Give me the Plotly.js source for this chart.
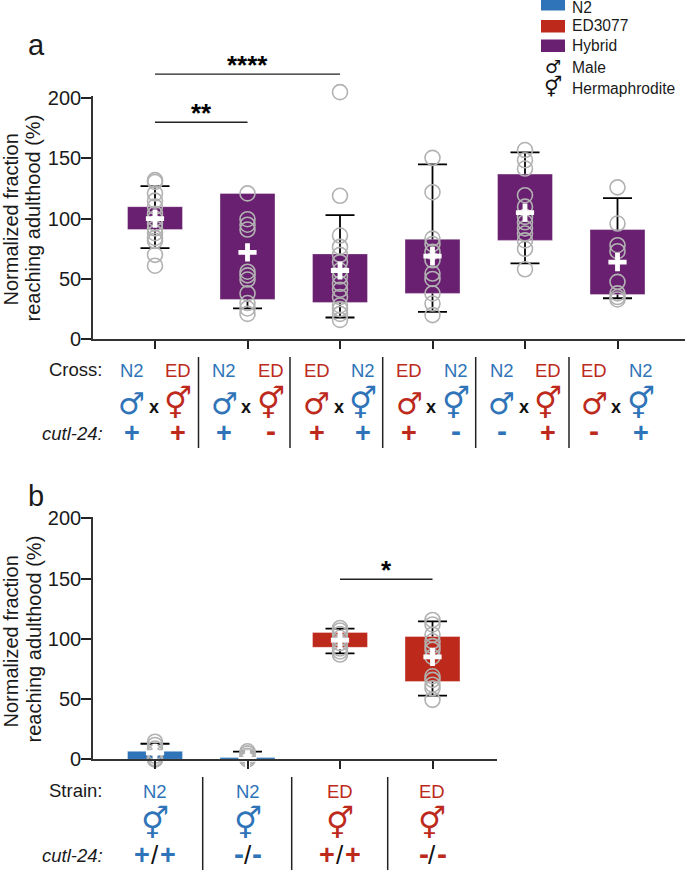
<!DOCTYPE html>
<html><head><meta charset="utf-8">
<script src="https://cdn.plot.ly/plotly-3.0.1.min.js"></script>
<style>html,body{margin:0;padding:0;background:#fff}</style></head>
<body><div id="chart" style="width:685px;height:870px"></div>
<script>
// ---------- data ----------
const aPos = [0,1,2,3,4,5];
const aBase = [91,33,30.5,38,82,37];
const aTop = [110,121,70.8,83,137,91];
const aMean = [100,72,57,69,105,64];
const aUpper = [127,118,103,145,155,117];
const aLower = [75.5,25.5,18,22.6,63,34];
const aPoints = [
 [132,130.5,121,115,110,104,100,96,92,88,84,81.6,70,61],
 [121,99.6,95,91,56,53,49.5,38,30,25.5,21],
 [205,119,86,76.6,70,64,57,52,46,41,35,28,25,21,16],
 [150.5,122,83.5,79,72.5,65.5,54.5,50,38,29.6,20],
 [157,148.5,141.6,119.5,110,101.5,97,92,87.7,82,75,58],
 [126,96,78,73,47.6,38,35,33]
];
const bPos = [0,1,2,3];
const bBase = [0,0,93,64.6];
const bTop = [6.7,1.5,105.4,102];
const bMean = [5.5,0,99,85];
const bUpper = [13,6.4,108.5,114.5];
const bLower = [0,0,88,53];
const bPoints = [
 [14.7,12,9,6,3,1,0,0],
 [6.7,5,3,1.5,0,0],
 [109,107,104,100.7,96.5,92,89.6,87],
 [115.7,112,103.5,98,94,91,85,69,66,62,59,49.4]
];
const crossLeft = ['N2','N2','ED','ED','N2','ED'];
const crossRight = ['ED','ED','N2','N2','ED','N2'];
const alleleLeft = ['+','+','+','+','-','-'];
const alleleRight = ['+','-','+','-','+','+'];
const strains = ['N2','N2','ED','ED'];
const strainAlleles = ['+','-','+','-'];
const yTicks = [0,50,100,150,200];
const legendBars = ['N2','ED3077','Hybrid'];
const sigA = [{from:0,to:1,y:180,stars:'**'},{from:0,to:2,y:220,stars:'****'}];
const sigB = [{from:2,to:3,y:149.5,stars:'*'}];
const yTitleLines = ['Normalized fraction','reaching adulthood (%)'];

// ---------- styles ----------
const W=685,H=870, FONT='"Liberation Sans", Arial, sans-serif', SYM='"DejaVu Sans", sans-serif';
const BLUE='#2f74b8', RED='#bd2a1c', PURPLE='#6a2070', INK='#1a1a1a';
const colorOf = s => s==='N2'?BLUE:RED;
const UNIT=92.5, X0=155;
const px = v => v/W, py = v => 1-v/H;
const annotations=[], shapes=[], traces=[];
function label(x,y,text,o={}){
  annotations.push(Object.assign({xref:'paper',yref:'paper',x:px(x),y:py(y),text,showarrow:false,
    xanchor:o.anchor||'center',yanchor:'middle',align:'center',borderpad:0,
    font:{family:o.family||FONT,size:o.size||18.5,color:o.color||INK,weight:o.weight||400,style:o.style||'normal'}},o.extra||{}));
}
function vline(x,y0,y1){shapes.push({type:'line',xref:'paper',yref:'paper',x0:px(x),x1:px(x),y0:py(y0),y1:py(y1),line:{color:'#222',width:1.5}});}
function sign(x,y,s,c){ if(s==='+') label(x,y,'+',{size:27,weight:700,color:c}); else label(x,y-2,'-',{size:30,weight:700,color:c}); }

function panel(ids,pos,base,top,mean,up,lo,points,color,sig){
  const [xa,ya,xo,yo]=ids;
  traces.push({type:'scatter',mode:'markers',x:pos,y:mean,xaxis:xa,yaxis:ya,cliponaxis:false,showlegend:false,hoverinfo:'skip',
    marker:{size:2,opacity:0},
    error_y:{type:'data',symmetric:false,array:up.map((u,i)=>u-mean[i]),arrayminus:lo.map((l,i)=>mean[i]-l),color:'#000',thickness:1.8,width:14.5}});
  traces.push({type:'bar',x:pos,y:top.map((t,i)=>t-base[i]),base:base,width:55/UNIT,xaxis:xo,yaxis:yo,showlegend:false,
    marker:{color:color,line:{color:'rgba(255,255,255,0.35)',width:1}}});
  points.forEach((vals,i)=>traces.push({type:'scatter',mode:'markers',x:vals.map(()=>pos[i]),y:vals,xaxis:xo,yaxis:yo,cliponaxis:false,showlegend:false,
    marker:{symbol:'circle-open',size:15,color:'#b2b2b2',line:{width:1.6,color:'#b2b2b2'}}}));
  traces.push({type:'scatter',mode:'markers',x:pos,y:mean,xaxis:xo,yaxis:yo,cliponaxis:false,showlegend:false,
    marker:{symbol:'cross-thin-open',size:13,color:'#fff',line:{width:4.8,color:'#fff'}}});
  sig.forEach(s=>{
    traces.push({type:'scatter',mode:'lines',x:[s.from,s.to],y:[s.y,s.y],xaxis:xo,yaxis:yo,cliponaxis:false,showlegend:false,line:{color:'#222',width:1.4}});
    annotations.push({xref:xo,yref:yo,x:(s.from+s.to)/2,y:s.y,yshift:-7,text:s.stars,showarrow:false,yanchor:'bottom',borderpad:0,
      font:{family:FONT,size:26,color:'#000',weight:700}});
  });
}
panel(['x','y','x3','y3'],aPos,aBase,aTop,aMean,aUpper,aLower,aPoints,PURPLE,sigA);
panel(['x2','y2','x4','y4'],bPos,bBase,bTop,bMean,bUpper,bLower,bPoints,[BLUE,BLUE,RED,RED],sigB);

// axes
const aRangeX=[(93-X0)/UNIT,(685-X0)/UNIT], bRangeX=[(93-X0)/UNIT,(497-X0)/UNIT];
const ay0=339.2, by0=759.4, k=1.205, yMax=201.5;
const aDomY=[1-ay0/H,1-(ay0-yMax*k)/H], bDomY=[1-by0/H,1-(by0-yMax*k)/H];
const xAxis=(range,dom,vals)=>({range,domain:dom,tickvals:vals,showticklabels:false,ticks:'outside',ticklen:7.5,tickwidth:1.5,tickcolor:'#222',
  showline:true,linecolor:'#333',linewidth:1.6,showgrid:false,zeroline:false,fixedrange:true});
const yAxis=(anchor,dom)=>({range:[0,yMax],domain:dom,anchor,tickvals:yTicks,ticks:'outside',ticklen:10,tickwidth:1.5,tickcolor:'#222',
  tickfont:{family:FONT,size:20,color:INK},ticklabelstandoff:-4,showline:true,linecolor:'#333',linewidth:1.6,showgrid:false,zeroline:false,fixedrange:true});
const hidden=(range,dom,anchor,over)=>Object.assign({range,domain:dom,anchor,visible:false,fixedrange:true},over?{overlaying:over}:{});
const layout={width:W,height:H,margin:{l:0,r:0,t:0,b:0},paper_bgcolor:'#fff',plot_bgcolor:'rgba(0,0,0,0)',showlegend:false,barmode:'overlay',font:{family:FONT},
  xaxis:xAxis(aRangeX,[93/W,1],aPos),yaxis:yAxis('x',aDomY),
  xaxis2:Object.assign(xAxis(bRangeX,[93/W,497/W],bPos),{anchor:'y2'}),yaxis2:yAxis('x2',bDomY),
  xaxis3:hidden(aRangeX,[93/W,1],'y3'),yaxis3:hidden([0,ay0/k],[1-ay0/H,1],'x3'),
  xaxis4:hidden(bRangeX,[93/W,497/W],'y4','x2'),yaxis4:hidden([0,yMax],bDomY,'x4','y2'),
  annotations,shapes};

// y titles
[[220,218.5],[642,639.5]].forEach(cy=>{
  label(10.5,cy[0],yTitleLines[0],{size:20,extra:{textangle:-90,height:21}});
  label(33,cy[1],yTitleLines[1],{size:20,extra:{textangle:-90}});
});
// panel letters
label(36,45,'a',{size:29}); label(36,496,'b',{size:29});
// panel a rows
label(103,369,'Cross:',{anchor:'right'}); label(104,433,'cutl-24:',{anchor:'right',style:'italic'});
aPos.forEach(i=>{
  const c=X0+i*UNIT, l=c-23.5, r=c+23;
  label(l,370.5,crossLeft[i],{color:colorOf(crossLeft[i])});
  label(r,370.5,crossRight[i],{color:colorOf(crossRight[i])});
  label(l,403,'\u2642',{family:SYM,size:30,color:colorOf(crossLeft[i])});
  label(r,402.5,'\u26A5',{family:SYM,size:31,color:colorOf(crossRight[i])});
  label(c-1.5,407,'x',{size:18,weight:700,color:'#111'});
  sign(l,433,alleleLeft[i],colorOf(crossLeft[i]));
  sign(r,433,alleleRight[i],colorOf(crossRight[i]));
  if(i<5) vline([198.5,290,382.7,475.7,569][i],357,448);
});
// panel b rows
label(103,790,'Strain:',{anchor:'right'}); label(104,855,'cutl-24:',{anchor:'right',style:'italic'});
bPos.forEach(i=>{
  const c=X0+i*UNIT, col=colorOf(strains[i]), off=strainAlleles[i]==='+'?13:9;
  label(c,791,strains[i],{color:col});
  label(c,823,'\u26A5',{family:SYM,size:31,color:col});
  sign(c-off,855,strainAlleles[i],col); sign(c+off,855,strainAlleles[i],col);
  label(c,855,'/',{size:26,color:'#111'});
  if(i<3) vline([202.7,291.7,387.7][i],777,870);
});
// key
[BLUE,RED,PURPLE].forEach((c,i)=>{
  const y=[-2,20,39.5][i];
  shapes.push({type:'rect',xref:'paper',yref:'paper',x0:px(541),x1:px(565),y0:py(y),y1:py(y+12.5),fillcolor:c,line:{width:0}});
  label(570.5,[8,26,46][i],legendBars[i],{anchor:'left',size:15.6});
});
label(553,66,'\u2642',{family:SYM,size:18,color:'#111'});
label(553,87,'\u26A5',{family:SYM,size:20,color:'#111'});
label(570.5,67,'Male',{anchor:'left',size:15.6});
label(570.5,88,'Hermaphrodite',{anchor:'left',size:15.6});

Plotly.newPlot('chart',traces,layout,{displayModeBar:false,responsive:false});
</script></body></html>
